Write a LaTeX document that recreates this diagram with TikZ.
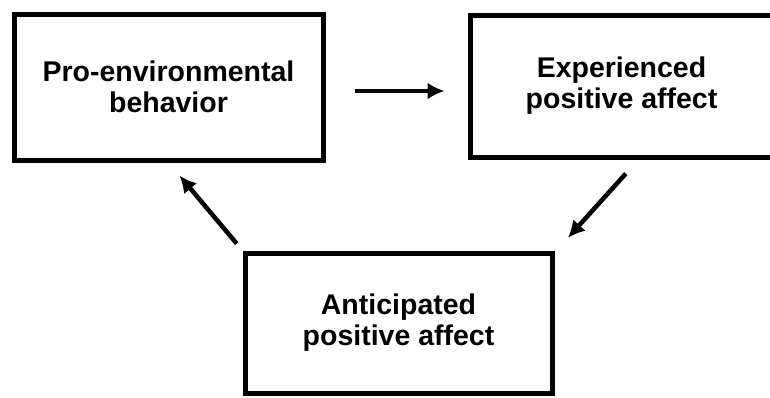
\documentclass[tikz,border=0pt]{standalone}
\usepackage{fontspec}
\setmainfont{Liberation Sans}
\usetikzlibrary{arrows.meta}
\begin{document}
\begin{tikzpicture}[x=1pt,y=-1pt,
  box/.style={draw=black, line width=5pt, fill=white, align=center,
    font=\bfseries\fontsize{28.5}{31}\selectfont, inner sep=0pt},
  arr/.style={line width=4.5pt, -{Latex[length=17pt,width=17pt]}}]
  \clip (0,0) rectangle (770,397);
  \fill[white] (0,0) rectangle (770,397);
  % the three stages of the cycle
  \node[box, minimum width=309pt, minimum height=146pt] (b1) at (168.5,87)
    {Pro-environmental\\behavior};
  \node[box, minimum width=303pt, minimum height=142pt] (b2) at (621.5,86)
    {Experienced\\positive affect};
  \node[box, minimum width=307pt, minimum height=140pt] (b3) at (398.5,323)
    {Anticipated\\positive affect};
  % arrows between the stages
  \draw[arr, shorten <=29pt, shorten >=23pt]
    ([yshift=-4pt]b1.east) -- ([yshift=-5pt]b2.west);
  \draw[arr, shorten <=19pt, shorten >=17pt]
    ([xshift=17pt]b2.south) -- ([xshift=2pt]b3.north east);
  \draw[arr, shorten <=9pt, shorten >=17pt]
    (b3.north west) -- (b1.south);
\end{tikzpicture}
\end{document}
